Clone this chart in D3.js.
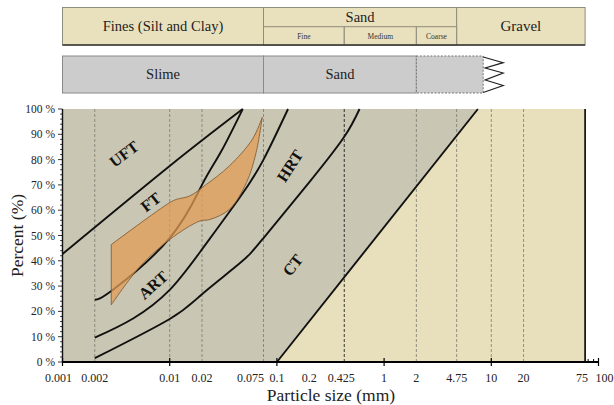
<!DOCTYPE html>
<html>
<head>
<meta charset="utf-8">
<script src="https://cdn.jsdelivr.net/npm/d3@7"></script>
<style>
  body { margin: 0; background: #fff; }
  svg { display: block; }
</style>
</head>
<body>
<svg id="chart" width="614" height="405"></svg>
<script>
// Particle-size tick labels (mm) and percent ticks
const xTickValues = [0.001, 0.002, 0.01, 0.02, 0.075, 0.1, 0.2, 0.425, 1, 2, 4.75, 10, 20, 75, 100];
const yTickValues = [0, 10, 20, 30, 40, 50, 60, 70, 80, 90, 100];
// Sieve / size boundaries drawn as dashed guides
const guideSizes = [0.002, 0.01, 0.02, 0.075, 0.425, 2, 4.75, 10, 20];

// Boundary curves: [particle size (mm), percent passing]
const uftCurve = [[0.001, 42.7], [0.01, 77.5], [0.048, 100]];
const ftCurve  = [[0.002, 24.6], [0.003, 28.8], [0.01, 49], [0.02, 70], [0.03, 83], [0.048, 100]];
const artCurve = [[0.002, 9.6], [0.0046, 17.3], [0.01, 28.5], [0.02, 44.5], [0.045, 65], [0.075, 80], [0.127, 100]];
const hrtCurve = [[0.002, 1.5], [0.01, 17], [0.02, 26.8], [0.045, 39], [0.075, 49], [0.2, 71], [0.425, 89], [0.59, 100]];
const ctCurve  = [[0.1, 0], [7.5, 100]];

// Tailings gradation band
const bandUpper = [[0.00285, 46.4], [0.01, 63], [0.0116, 64.3], [0.0153, 65.6], [0.022, 70.2], [0.036, 77.5], [0.059, 88], [0.073, 96.7]];
const bandLower = [[0.073, 96.7], [0.064, 82.8], [0.052, 70.9], [0.036, 60.3], [0.0236, 56.3], [0.019, 55.7], [0.01, 48.4], [0.0053, 37.8], [0.00285, 22.6]];

// Soil classification bands
const classTop = [
  { name: "Fines (Silt and Clay)", from: 0.001, to: 0.075 },
  { name: "Sand", from: 0.075, to: 4.75 },
  { name: "Gravel", from: 4.75, to: 75 }
];
const sandSub = [
  { name: "Fine", from: 0.075, to: 0.425 },
  { name: "Medium", from: 0.425, to: 2 },
  { name: "Coarse", from: 2, to: 4.75 }
];
const classBottom = [
  { name: "Slime", from: 0.001, to: 0.075 },
  { name: "Sand", from: 0.075, to: 2 }
];

const regionLabels = [
  { text: "UFT", size: 0.00375, pct: 82.2, angle: -37 },
  { text: "FT",  size: 0.00665, pct: 63.2, angle: -38 },
  { text: "ART", size: 0.0070,  pct: 30.4, angle: -42 },
  { text: "HRT", size: 0.1325,  pct: 77.5, angle: -57 },
  { text: "CT",  size: 0.1404,  pct: 38.3, angle: -52 }
];

const FONT = "'Liberation Serif', 'DejaVu Serif', 'Times New Roman', serif";
const svg = d3.select("#chart").attr("font-family", FONT);
const x = d3.scaleLog().domain([0.001, 100]).range([62.5, 598.5]);
const y = d3.scaleLinear().domain([0, 100]).range([362, 109]);

const grey = "#c9c6b3", beige = "#e8e0bc";

// ---- classification header ----
const hdr = svg.append("g");
const r1 = { top: 7.5, mid: 26.7, bot: 45 };
classTop.forEach(d => {
  hdr.append("rect").attr("x", x(d.from)).attr("y", r1.top)
    .attr("width", x(d.to) - x(d.from)).attr("height", r1.bot - r1.top)
    .attr("fill", "#e9e1bd").attr("stroke", "#8e8c7c").attr("stroke-width", 1);
});
sandSub.forEach(d => {
  hdr.append("rect").attr("x", x(d.from)).attr("y", r1.mid)
    .attr("width", x(d.to) - x(d.from)).attr("height", r1.bot - r1.mid)
    .attr("fill", "#e9e1bd").attr("stroke", "#8e8c7c").attr("stroke-width", 1);
  hdr.append("text").attr("x", (x(d.from) + x(d.to)) / 2).attr("y", 39)
    .attr("text-anchor", "middle").attr("font-size", 7.5).attr("fill", "#333").text(d.name);
});
hdr.append("line").attr("x1", x(0.001)).attr("x2", x(75)).attr("y1", r1.bot).attr("y2", r1.bot)
  .attr("stroke", "#333").attr("stroke-width", 1.4);
classTop.forEach(d => {
  const isSand = d.name === "Sand";
  hdr.append("text").attr("x", (x(d.from) + x(d.to)) / 2)
    .attr("y", isSand ? 21.5 : 31)
    .attr("text-anchor", "middle").attr("font-size", d.name === "Gravel" ? 15 : 14.5)
    .attr("fill", "#222").text(d.name);
});

const r2 = { top: 56, bot: 93 };
classBottom.forEach(d => {
  hdr.append("rect").attr("x", x(d.from)).attr("y", r2.top)
    .attr("width", x(d.to) - x(d.from)).attr("height", r2.bot - r2.top)
    .attr("fill", "#cccccc").attr("stroke", "#8a8a8a").attr("stroke-width", 1);
  hdr.append("text").attr("x", (x(d.from) + x(d.to)) / 2).attr("y", 79)
    .attr("text-anchor", "middle").attr("font-size", 14.5).attr("fill", "#222").text(d.name);
});
// open-ended box with break symbol
const openEnd = 8.4;
hdr.append("rect").attr("x", x(2)).attr("y", r2.top)
  .attr("width", x(openEnd) - x(2)).attr("height", r2.bot - r2.top)
  .attr("fill", "#cdcdcd").attr("stroke", "#777").attr("stroke-width", 1)
  .attr("stroke-dasharray", "2,1.5");
const zx0 = x(openEnd), zx1 = zx0 + 20;
const zig = [[zx0, 57], [zx1, 62.7], [zx0 + 2, 68], [zx1, 73], [zx0 + 2, 80], [zx1, 85.5], [zx0, 92.5]];
hdr.append("path").attr("d", d3.line()(zig)).attr("fill", "none")
  .attr("stroke", "#222").attr("stroke-width", 1.2);

// ---- plot backgrounds ----
const plot = svg.append("g");
plot.append("rect").attr("x", x(0.001)).attr("y", y(100))
  .attr("width", x(75) - x(0.001)).attr("height", y(0) - y(100)).attr("fill", beige);

const curve = d3.line().x(d => x(d[0])).y(d => y(d[1])).curve(d3.curveNatural);
const band = d3.line().x(d => x(d[0])).y(d => y(d[1])).curve(d3.curveCatmullRom.alpha(0.5));
const straight = d3.line().x(d => x(d[0])).y(d => y(d[1]));

// grey zone: everything finer than the CT boundary
plot.append("path")
  .attr("d", straight([[0.001, 0], [0.001, 100]].concat(ctCurve.slice().reverse())) + "Z")
  .attr("fill", grey);

// dashed size guides
plot.selectAll(".guide").data(guideSizes).join("line")
  .attr("x1", d => x(d)).attr("x2", d => x(d))
  .attr("y1", y(100)).attr("y2", y(0))
  .attr("stroke", d => d === 0.425 ? "#222" : "#7a7a72")
  .attr("stroke-width", d => d === 0.425 ? 0.9 : 0.8)
  .attr("stroke-dasharray", "3,2");

// boundary curves
[uftCurve, ftCurve, artCurve, hrtCurve, ctCurve].forEach(c => {
  plot.append("path").attr("d", curve(c)).attr("fill", "none")
    .attr("stroke", "#111").attr("stroke-width", 1.9);
});

// gradation band
const bandPath = band(bandUpper) + band(bandLower).replace(/^M/, "L") + "Z";
plot.append("path").attr("d", bandPath)
  .attr("fill", "#e09c55").attr("fill-opacity", 0.75)
  .attr("stroke", "#7a5530").attr("stroke-width", 0.8);

// right limit at 75 mm
plot.append("line").attr("x1", x(75)).attr("x2", x(75)).attr("y1", y(100)).attr("y2", y(0))
  .attr("stroke", "#000").attr("stroke-width", 1.6);

// region labels
plot.selectAll(".rl").data(regionLabels).join("text")
  .attr("transform", d => `translate(${x(d.size)},${y(d.pct)}) rotate(${d.angle})`)
  .attr("text-anchor", "middle").attr("dominant-baseline", "central")
  .attr("font-size", 16).attr("font-weight", "bold").attr("fill", "#111")
  .text(d => d.text);

// ---- axes ----
const ax = svg.append("g");
// y axis with 2 % minor ticks
const yMinor = d3.range(0, 101, 2);
ax.selectAll(".ym").data(yMinor).join("line")
  .attr("x1", d => x(0.001) - (d % 10 === 0 ? 4.5 : 2.4))
  .attr("x2", x(0.001)).attr("y1", d => y(d)).attr("y2", d => y(d))
  .attr("stroke", "#222").attr("stroke-width", 0.9);
ax.append("line").attr("x1", x(0.001)).attr("x2", x(0.001)).attr("y1", y(100)).attr("y2", y(0))
  .attr("stroke", "#111").attr("stroke-width", 1.4);
ax.selectAll(".yl").data(yTickValues).join("text")
  .attr("x", 55).attr("y", d => y(d) + 4).attr("text-anchor", "end")
  .attr("font-size", 11.5).attr("fill", "#222").text(d => d + " %");

// x axis
ax.append("line").attr("x1", x(0.001)).attr("x2", x(100)).attr("y1", y(0)).attr("y2", y(0))
  .attr("stroke", "#000").attr("stroke-width", 1.8);
const decadeTicks = [0.001, 0.01, 0.1, 1, 10, 100];
ax.selectAll(".xt").data(decadeTicks).join("line")
  .attr("x1", d => x(d)).attr("x2", d => x(d)).attr("y1", y(0) - 4).attr("y2", y(0) + 4)
  .attr("stroke", "#000").attr("stroke-width", 1.2);
ax.selectAll(".xm").data([80, 90]).join("line")
  .attr("x1", d => x(d)).attr("x2", d => x(d)).attr("y1", y(0) - 3).attr("y2", y(0))
  .attr("stroke", "#000").attr("stroke-width", 1);
// small label nudges keep neighbouring labels apart
const labelNudge = { 0.001: -4, 0.075: -13, 0.425: -3, 75: -3, 100: 6 };
ax.selectAll(".xl").data(xTickValues).join("text")
  .attr("x", d => x(d) + (labelNudge[d] || 0))
  .attr("y", 381.5).attr("text-anchor", "middle")
  .attr("font-size", 12).attr("fill", "#222").text(d => String(d));

// axis titles
svg.append("text").attr("x", 331).attr("y", 401).attr("text-anchor", "middle")
  .attr("font-size", 17.5).attr("fill", "#222").text("Particle size (mm)");
svg.append("text").attr("transform", `translate(23,${y(50)}) rotate(-90)`)
  .attr("text-anchor", "middle").attr("font-size", 17.5).attr("fill", "#222").text("Percent (%)");
</script>
</body>
</html>
